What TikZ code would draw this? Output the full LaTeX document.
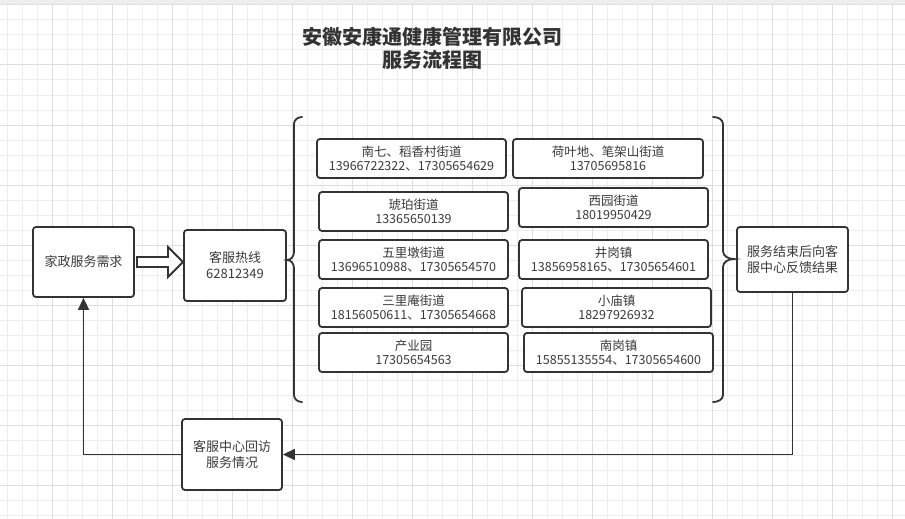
\documentclass[tikz,border=0pt]{standalone}
\usepackage{fontspec}
\setmainfont{Noto Sans CJK SC}
\usetikzlibrary{arrows.meta}
\definecolor{ink}{HTML}{333333}
\definecolor{txt}{HTML}{3A3A3A}
\definecolor{gridminor}{HTML}{EEEEEE}
\definecolor{gridmajor}{HTML}{DEDEDE}
\tikzset{
  box/.style={draw=ink, line width=1.8pt, rounded corners=3pt, fill=white, inner sep=0pt, align=center, text=txt},
  mainbox/.style={box, font=\fontsize{13}{16}\selectfont},
  zone/.style={box, font=\fontsize{12.5}{14.5}\selectfont},
  flow/.style={draw=ink, line width=1.6pt, -{Triangle[length=12pt,width=11pt]}},
  bracket/.style={draw=ink, line width=1.8pt, line cap=round},
}
\begin{document}
\begin{tikzpicture}[x=1pt,y=-1pt]
\useasboundingbox (0,0) rectangle (905,519);
\fill[white] (0,0) rectangle (905,519);
\fill[gridminor] (0,0) rectangle (905,5);
% grid
\foreach \i in {0,...,60} {
  \draw[gridminor, line width=1pt] ({7.3+15*\i},5) -- ({7.3+15*\i},519);
}
\foreach \j in {0,...,34} {
  \draw[gridminor, line width=1pt] (0,{5+15*\j}) -- (905,{5+15*\j});
}
\foreach \i in {0,...,14} {
  \draw[gridmajor, line width=1pt] ({52.3+60*\i},5) -- ({52.3+60*\i},519);
}
\foreach \j in {0,...,8} {
  \draw[gridmajor, line width=1pt] (0,{5+60*\j}) -- (905,{5+60*\j});
}

% title
\node[align=center, text=ink, font=\fontsize{20}{23}\selectfont\bfseries] (title) at (432.5,48.5) {安徽安康通健康管理有限公司\\服务流程图};

% main boxes
\node[mainbox, minimum width=101, minimum height=70] (demand) at (83.5,262) {家政服务需求};
\node[mainbox, minimum width=102, minimum height=71] (hotline) at (235,265.5) {客服热线\\62812349};
\node[mainbox, minimum width=111, minimum height=65] (fb) at (792.5,259.5) {服务结束后向客\\服中心反馈结果};
\node[mainbox, minimum width=100, minimum height=71] (visit) at (232,454.5) {客服中心回访\\服务情况};

% hollow arrow
\draw[draw=ink, line width=1.8pt, fill=white, line join=miter]
  (137,257) -- (168,257) -- (168,247) -- (183,262) -- (168,277) -- (168,267) -- (137,267) -- cycle;

% braces
\draw[bracket] (302,117) to[out=180,in=90] (294,124) -- (294,252)
  to[out=-90,in=0] (287,260) to[out=0,in=90] (294,268) -- (294,395)
  to[out=-90,in=180] (302,402);
\draw[bracket] (713,117) to[out=0,in=90] (723,124) -- (723,251)
  to[out=-90,in=180] (734,259) to[out=180,in=90] (723,267) -- (723,395)
  to[out=-90,in=0] (713,402);

% zone boxes
\node[zone, minimum width=189, minimum height=39] (b1) at (411.5,158.5) {南七、稻香村街道\\13966722322、17305654629};
\node[zone, minimum width=190, minimum height=39] (b2) at (608,158.5) {荷叶地、笔架山街道\\13705695816};
\node[zone, minimum width=189, minimum height=39] (b3) at (413.5,211.5) {琥珀街道\\13365650139};
\node[zone, minimum width=189, minimum height=39] (b4) at (613.5,207.5) {西园街道\\18019950429};
\node[zone, minimum width=189, minimum height=39] (b5) at (413.5,259.5) {五里墩街道\\13696510988、17305654570};
\node[zone, minimum width=189, minimum height=39] (b6) at (613.5,259.5) {井岗镇\\13856958165、17305654601};
\node[zone, minimum width=189, minimum height=39] (b7) at (413.5,307.5) {三里庵街道\\18156050611、17305654668};
\node[zone, minimum width=189, minimum height=39] (b8) at (616.5,307.5) {小庙镇\\18297926932};
\node[zone, minimum width=189, minimum height=39] (b9) at (413.5,352.5) {产业园\\17305654563};
\node[zone, minimum width=189, minimum height=39] (b10) at (618.5,352.5) {南岗镇\\15855135554、17305654600};

% feedback loop
\draw[flow] (fb.south) -- (fb.south |- visit.east) -- (visit.east);
\draw[flow] (visit.west) -| (demand.south);
\end{tikzpicture}
\end{document}
